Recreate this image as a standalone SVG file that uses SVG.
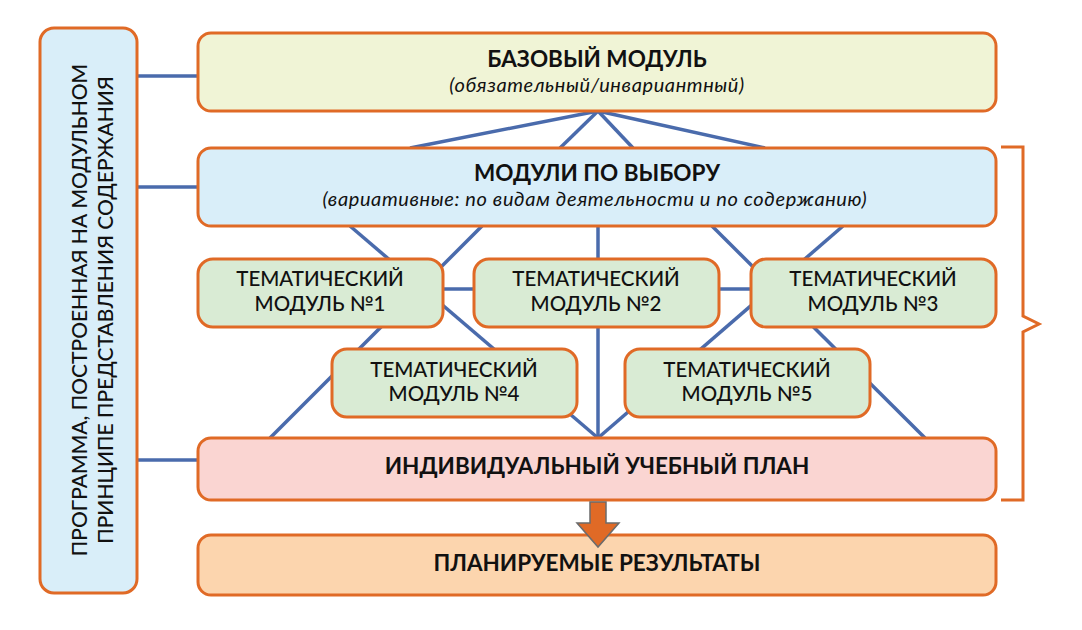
<svg xmlns="http://www.w3.org/2000/svg" width="1082" height="630" viewBox="0 0 1082 630">
<style>
.box{stroke:#E06A26;stroke-width:3}
.ln{stroke:#4A6BAC;stroke-width:3.5;fill:none}
.t{font-family:Lato,"Noto Sans",sans-serif;fill:#111;text-anchor:middle}
.b{font-weight:700;font-size:22.5px}
.m{font-weight:500;font-size:20.5px}
.i{font-style:italic;font-size:20px;letter-spacing:0.6px}
</style>
<rect width="1082" height="630" fill="#fff"/>
<g id="connectors">
<line class="ln" x1="137" y1="76" x2="198" y2="76"/>
<line class="ln" x1="137" y1="187" x2="198" y2="187"/>
<line class="ln" x1="137" y1="460" x2="198" y2="460"/>
<line class="ln" x1="598" y1="111" x2="410" y2="148"/>
<line class="ln" x1="598" y1="111" x2="560" y2="148"/>
<line class="ln" x1="598" y1="111" x2="633" y2="148"/>
<line class="ln" x1="598" y1="111" x2="765" y2="148"/>
<line class="ln" x1="350" y1="226" x2="598" y2="438"/>
<line class="ln" x1="482" y1="226" x2="270" y2="438"/>
<line class="ln" x1="598" y1="226" x2="598" y2="438"/>
<line class="ln" x1="712" y1="226" x2="925" y2="438"/>
<line class="ln" x1="843" y1="226" x2="598" y2="438"/>
<line class="ln" x1="443" y1="289" x2="750" y2="289"/>
</g>
<g id="left">
<rect class="box" x="40" y="28" width="97" height="565" rx="14" fill="#D9EEF9"/>
<text class="t m" style="font-size:21px" transform="translate(87,310) rotate(-90)">ПРОГРАММА, ПОСТРОЕННАЯ НА МОДУЛЬНОМ</text>
<text class="t m" style="font-size:21px" transform="translate(113,310) rotate(-90)">ПРИНЦИПЕ ПРЕДСТАВЛЕНИЯ СОДЕРЖАНИЯ</text>
</g>
<g id="base">
<rect class="box" x="198" y="33" width="798" height="78" rx="13" fill="#F0F4D6"/>
<text class="t b" x="597" y="67">БАЗОВЫЙ МОДУЛЬ</text>
<text class="t i" x="597" y="92">(обязательный/инвариантный)</text>
</g>
<g id="choice">
<rect class="box" x="198" y="148" width="798" height="78" rx="13" fill="#D9EEF9"/>
<text class="t b" x="597" y="181">МОДУЛИ ПО ВЫБОРУ</text>
<text class="t i" x="595" y="206">(вариативные: по видам деятельности и по содержанию)</text>
</g>
<g id="tm1">
<rect class="box" x="198" y="259" width="245" height="68" rx="15" fill="#D9EBD4"/>
<text class="t m" x="320" y="286">ТЕМАТИЧЕСКИЙ</text>
<text class="t m" x="320" y="311">МОДУЛЬ №1</text>
</g>
<g id="tm2">
<rect class="box" x="474" y="259" width="245" height="68" rx="15" fill="#D9EBD4"/>
<text class="t m" x="596" y="286">ТЕМАТИЧЕСКИЙ</text>
<text class="t m" x="596" y="311">МОДУЛЬ №2</text>
</g>
<g id="tm3">
<rect class="box" x="751" y="259" width="245" height="68" rx="15" fill="#D9EBD4"/>
<text class="t m" x="873" y="286">ТЕМАТИЧЕСКИЙ</text>
<text class="t m" x="873" y="311">МОДУЛЬ №3</text>
</g>
<g id="tm4">
<rect class="box" x="332" y="349" width="245" height="68" rx="15" fill="#D9EBD4"/>
<text class="t m" x="454" y="377">ТЕМАТИЧЕСКИЙ</text>
<text class="t m" x="454" y="401">МОДУЛЬ №4</text>
</g>
<g id="tm5">
<rect class="box" x="625" y="349" width="245" height="68" rx="15" fill="#D9EBD4"/>
<text class="t m" x="747" y="377">ТЕМАТИЧЕСКИЙ</text>
<text class="t m" x="747" y="401">МОДУЛЬ №5</text>
</g>
<g id="plan">
<rect class="box" x="198" y="438" width="798" height="62" rx="13" fill="#FAD5D2"/>
<text class="t b" x="597" y="474">ИНДИВИДУАЛЬНЫЙ УЧЕБНЫЙ ПЛАН</text>
</g>
<g id="results">
<rect class="box" x="198" y="535" width="798" height="60" rx="13" fill="#FCD5AE"/>
<text class="t b" x="597" y="571">ПЛАНИРУЕМЫЕ РЕЗУЛЬТАТЫ</text>
</g>
<g id="arrow">
<path d="M590,502 H606 V523 H619 L598,547 L577,523 H590 Z" fill="#E06A26" stroke="#6B6B6B" stroke-width="1.5" stroke-linejoin="miter"/>
</g>
<g id="brace">
<path d="M1001,147 H1023 V316 L1039,324 L1023,332 V500 H1001" fill="none" stroke="#E06A26" stroke-width="3"/>
</g>
</svg>
